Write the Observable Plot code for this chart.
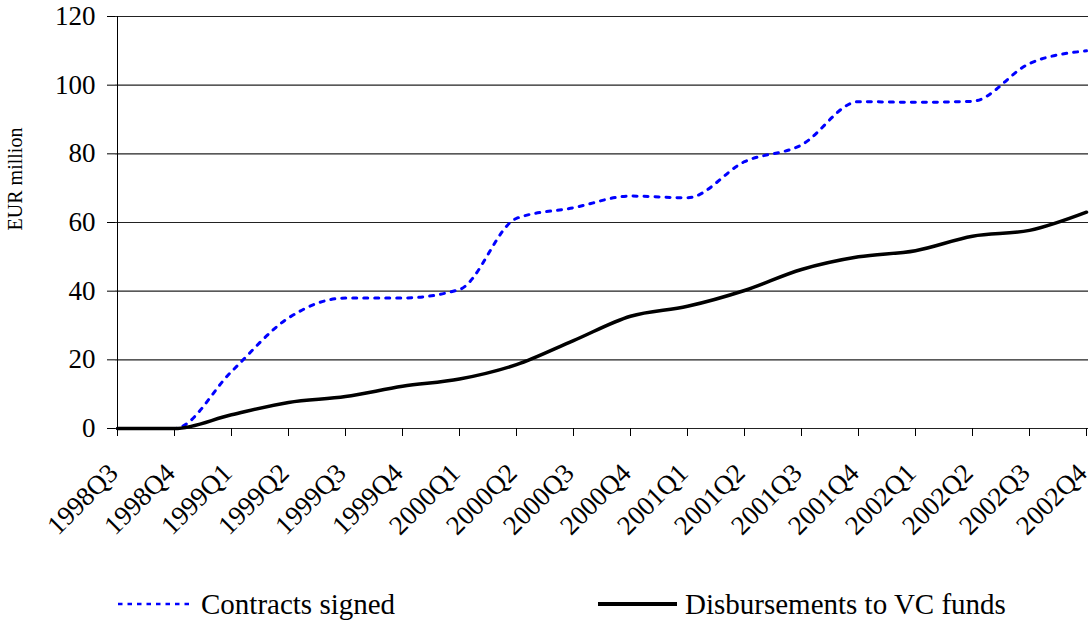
<!DOCTYPE html>
<html>
<head>
<meta charset="utf-8">
<script src="https://cdn.jsdelivr.net/npm/d3@7"></script>
<script src="https://cdn.jsdelivr.net/npm/@observablehq/plot@0.6"></script>
<style>
  html, body { margin: 0; padding: 0; background: #fff; }
  #wrap { position: relative; width: 1092px; height: 621px; font-family: "Liberation Serif", "DejaVu Serif", serif; }
  .leg { position: absolute; top: 588px; height: 32px; display: flex; align-items: center; font-size: 29px; color: #000; white-space: nowrap; font-family: "Liberation Serif", "DejaVu Serif", serif; }
  .leg svg { margin-right: 8px; }
</style>
</head>
<body>
<div id="wrap"></div>
<script>
const quarters = ["1998Q3","1998Q4","1999Q1","1999Q2","1999Q3","1999Q4","2000Q1","2000Q2","2000Q3","2000Q4","2001Q1","2001Q2","2001Q3","2001Q4","2002Q1","2002Q2","2002Q3","2002Q4"];
const contractsSigned = [0, 0, 16.6, 32.2, 38.0, 38.0, 40.5, 61.2, 64.3, 67.7, 67.2, 77.7, 82.6, 95.2, 95.0, 95.3, 106.3, 110.0];
const disbursements = [0, 0, 4.0, 7.6, 9.3, 12.3, 14.4, 18.6, 25.6, 32.7, 35.6, 40.2, 46.3, 50.0, 51.8, 56.0, 57.7, 63.0];
const yTicks = [0, 20, 40, 60, 80, 100, 120];
const seriesNames = ["Contracts signed", "Disbursements to VC funds"];
const yLabel = "EUR million";

const rowsC = quarters.map((q, i) => ({q, v: contractsSigned[i]}));
const rowsD = quarters.map((q, i) => ({q, v: disbursements[i]}));
const serif = "'Liberation Serif', 'DejaVu Serif', serif";

const chart = Plot.plot({
  width: 1092,
  height: 560,
  marginLeft: 115,
  marginRight: 4,
  marginTop: 16,
  marginBottom: 132,
  style: {fontFamily: serif, background: "#fff", color: "#000"},
  x: {type: "point", domain: quarters, padding: 0},
  y: {domain: [0, 120]},
  marks: [
    Plot.ruleY(yTicks, {stroke: "#222", strokeWidth: 1.2}),
    Plot.axisY({ticks: yTicks, tickSize: 8, tickPadding: 12, fontSize: 27, fontFamily: serif, label: null, stroke: "#000"}),
    Plot.ruleX([quarters[0]], {y1: 0, y2: 120, stroke: "#000", strokeWidth: 1}),
    Plot.axisX({tickSize: 8, text: null, label: null, stroke: "#000"}),
    Plot.text(quarters, {x: d => d, frameAnchor: "bottom", rotate: -45, textAnchor: "end", lineAnchor: "middle", dy: 40, dx: -4, fontSize: 27, fontFamily: serif, fill: "#000"}),
    Plot.text([yLabel], {frameAnchor: "left", textAnchor: "middle", dx: -100, dy: -43.5, rotate: -90, fontSize: 20, fontFamily: serif, fill: "#000"}),
    Plot.line(rowsC, {x: "q", y: "v", stroke: "#0000ff", strokeWidth: 3, strokeDasharray: "4 7", curve: "monotone-x"}),
    Plot.line(rowsD, {x: "q", y: "v", stroke: "#000", strokeWidth: 3.5, curve: "monotone-x"})
  ]
});

const wrap = document.getElementById("wrap");
wrap.appendChild(chart);

function legendItem(left, name, stroke, dash, width, lineLen) {
  const div = document.createElement("div");
  div.className = "leg";
  div.style.left = left + "px";
  div.innerHTML = `<svg width="${lineLen}" height="10"><line x1="0" x2="${lineLen}" y1="5" y2="5" stroke="${stroke}" stroke-width="${width}" ${dash ? `stroke-dasharray="${dash}"` : ""}/></svg><span>${name}</span>`;
  wrap.appendChild(div);
}
legendItem(118, seriesNames[0], "#0000ff", "4.5 5", 2.5, 75);
legendItem(598, seriesNames[1], "#000", null, 4, 79);
</script>
</body>
</html>
